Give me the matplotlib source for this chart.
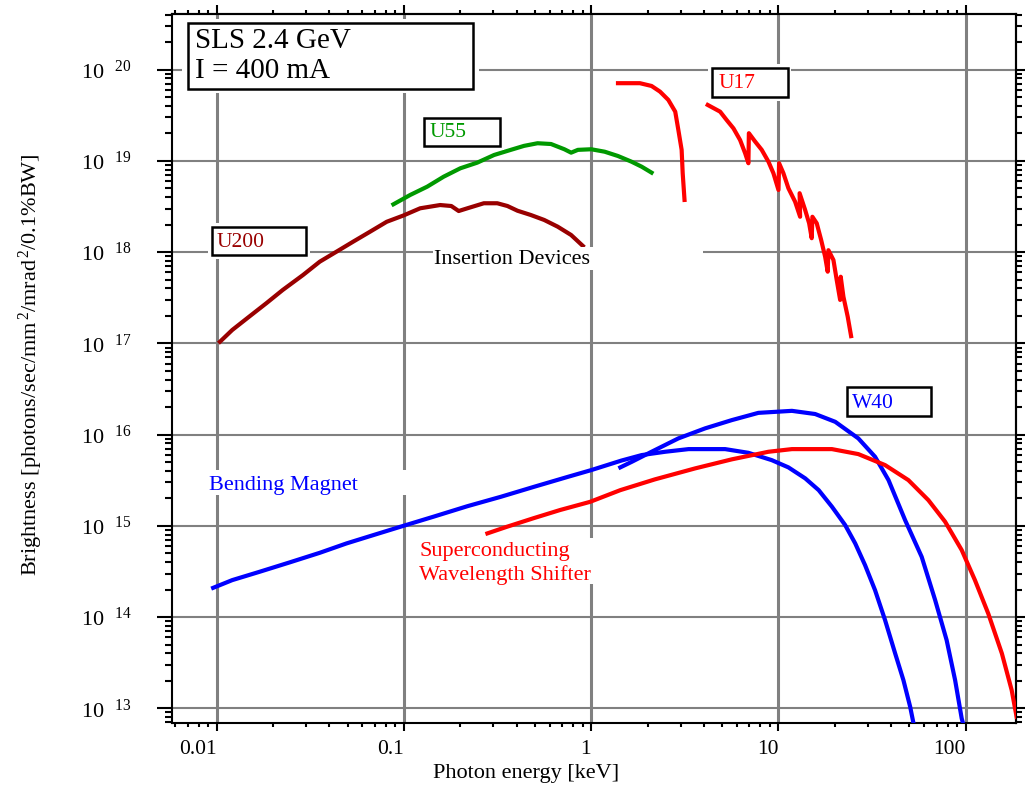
import numpy as np
import matplotlib.pyplot as plt
from matplotlib.patches import Rectangle
from matplotlib.ticker import LogLocator, NullFormatter

plt.rcParams['font.family'] = 'serif'
plt.rcParams['font.serif'] = ['Liberation Serif', 'DejaVu Serif']
plt.rcParams['mathtext.fontset'] = 'custom'
plt.rcParams['mathtext.rm'] = 'Liberation Serif'
plt.rcParams['mathtext.it'] = 'Liberation Serif:italic'
plt.rcParams['mathtext.bf'] = 'Liberation Serif:bold'

# photon energy [keV] and brightness for each source
u200_e = [0.0104, 0.0121, 0.0149, 0.0184, 0.0225, 0.0289, 0.0355, 0.0436, 0.0535, 0.0658,
          0.0809, 0.0994, 0.122, 0.156, 0.179, 0.196, 0.218, 0.267, 0.315, 0.357,
          0.404, 0.476, 0.561, 0.662, 0.781, 0.902]
u200_b = [1.04e17, 1.40e17, 1.96e17, 2.75e17, 3.84e17, 5.61e17, 7.85e17, 1.01e18, 1.30e18, 1.67e18,
          2.15e18, 2.52e18, 3.02e18, 3.28e18, 3.20e18, 2.82e18, 3.02e18, 3.43e18, 3.43e18, 3.20e18,
          2.84e18, 2.55e18, 2.25e18, 1.90e18, 1.54e18, 1.17e18]

u55_e = [0.0878, 0.108, 0.133, 0.163, 0.200, 0.246, 0.303, 0.372, 0.438, 0.517,
         0.610, 0.719, 0.781, 0.849, 1.00, 1.18, 1.39, 1.64, 1.86, 2.10]
u55_b = [3.34e18, 4.23e18, 5.21e18, 6.71e18, 8.29e18, 9.55e18, 1.16e19, 1.32e19, 1.46e19, 1.56e19,
         1.53e19, 1.34e19, 1.23e19, 1.32e19, 1.34e19, 1.26e19, 1.13e19, 9.80e18, 8.63e18, 7.43e18]

u17a_e = [1.39, 1.82, 2.10, 2.33, 2.58, 2.81, 2.92, 3.04, 3.08, 3.15]
u17a_b = [7.10e19, 7.10e19, 6.62e19, 5.74e19, 4.66e19, 3.46e19, 2.18e19, 1.32e19, 7.31e18, 3.73e18]

u17b_e = [4.19, 4.88, 5.29, 5.75, 6.24, 6.64, 6.91, 6.95, 7.50, 8.14,
          8.84, 9.40, 10.0, 10.08, 10.63, 11.30, 12.27, 13.05, 12.97, 13.88,
          14.58, 15.05, 15.18, 16.01, 16.90, 17.75, 18.32, 18.48, 19.66, 20.47,
          21.35, 21.50, 22.23, 23.43, 24.43]
u17b_b = [4.10e19, 3.46e19, 2.80e19, 2.27e19, 1.69e19, 1.21e19, 9.42e18, 2.01e19, 1.63e19, 1.32e19,
          9.80e18, 7.31e18, 4.80e18, 9.42e18, 7.31e18, 5.01e18, 3.57e18, 2.44e18, 4.42e18, 2.90e18,
          2.07e18, 1.42e18, 2.44e18, 2.07e18, 1.36e18, 8.91e17, 6.10e17, 1.05e18, 8.19e17, 4.94e17,
          2.99e17, 5.37e17, 3.24e17, 1.96e17, 1.20e17]

bm_e = [0.00957, 0.0121, 0.0169, 0.0245, 0.0355, 0.0493, 0.0686, 0.0994, 0.144, 0.218,
        0.329, 0.496, 0.750, 1.0, 1.45, 1.86, 2.48, 3.31, 5.19, 6.91,
        9.20, 11.3, 13.9, 16.4, 19.3, 22.7, 25.7, 29.0, 32.8, 37.1,
        42.0, 46.5, 50.5, 52.6]
bm_b = [2.09e14, 2.54e14, 3.13e14, 3.97e14, 5.06e14, 6.41e14, 7.91e14, 1.0e15, 1.26e15, 1.64e15,
        2.08e15, 2.68e15, 3.44e15, 4.08e15, 5.19e15, 5.96e15, 6.48e15, 6.93e15, 6.93e15, 6.31e15,
        5.25e15, 4.37e15, 3.31e15, 2.46e15, 1.62e15, 1.02e15, 6.41e14, 3.71e14, 1.97e14, 9.25e13,
        3.99e13, 2.03e13, 1.04e13, 6.87e12]

w40_e = [1.43, 1.65, 2.10, 2.92, 4.06, 5.63, 7.81, 11.8, 15.7, 20.1,
         26.7, 32.8, 38.7, 47.5, 58.2, 68.7, 79.1, 87.8, 95.2, 98.4]
w40_b = [4.37e15, 5.04e15, 6.48e15, 9.08e15, 1.17e16, 1.44e16, 1.73e16, 1.82e16, 1.68e16, 1.38e16,
         9.08e15, 5.71e15, 3.17e15, 1.15e15, 4.57e14, 1.53e14, 5.58e13, 2.03e13, 7.73e12, 6.05e12]

sws_e = [0.279, 0.354, 0.491, 0.682, 0.985, 1.43, 2.19, 3.59, 5.63, 8.84,
         11.8, 19.3, 26.7, 37.1, 49.4, 63.2, 77.6, 95.2, 112, 132,
         156, 176, 187]
sws_b = [8.26e14, 9.75e14, 1.21e15, 1.49e15, 1.83e15, 2.46e15, 3.23e15, 4.26e15, 5.35e15, 6.48e15,
         6.93e15, 6.93e15, 6.11e15, 4.63e15, 3.17e15, 1.91e15, 1.11e15, 5.42e14, 2.54e14, 1.09e14,
         3.99e13, 1.58e13, 8.05e12]

x_ticks = [0.01, 0.1, 1, 10, 100]
x_tick_labels = ['0.01', '0.1', '1', '10', '100']
y_exponents = list(range(13, 21))

fig = plt.figure(figsize=(10.29, 7.91), dpi=100)
ax = fig.add_axes([0.16715, 0.08597, 0.82022, 0.89633])
ax.set_xscale('log')
ax.set_yscale('log')
ax.set_xlim(0.00577, 185.6)
ax.set_ylim(6.9e12, 4.07e20)

lw = 3
ax.plot(u200_e, u200_b, color='#990000', lw=lw, zorder=3)
ax.plot(u55_e, u55_b, color='#009900', lw=lw, zorder=3)
ax.plot(u17a_e, u17a_b, color='#ff0000', lw=lw, zorder=3)
ax.plot(u17b_e, u17b_b, color='#ff0000', lw=lw, zorder=3)
ax.plot(bm_e, bm_b, color='#0000ff', lw=lw, zorder=3)
ax.plot(w40_e, w40_b, color='#0000ff', lw=lw, zorder=3)
ax.plot(sws_e, sws_b, color='#ff0000', lw=lw, zorder=3)

# grid
ax.set_axisbelow(True)
ax.xaxis.grid(True, which='major', color='#808080', lw=2.2)
ax.yaxis.grid(True, which='major', color='#808080', lw=1.5)

# ticks
ax.set_xticks(x_ticks)
ax.set_xticklabels(x_tick_labels, ha='right', fontsize=15.5)
ax.xaxis.set_minor_locator(LogLocator(base=10, subs=np.arange(2, 10), numticks=100))
ax.xaxis.set_minor_formatter(NullFormatter())
ax.set_yticks([10.0 ** k for k in y_exponents])
ax.set_yticklabels([r'10$^{\quad %d}$' % k for k in y_exponents], fontsize=16)
ax.yaxis.set_minor_locator(LogLocator(base=10, subs=np.arange(2, 10), numticks=100))
ax.yaxis.set_minor_formatter(NullFormatter())
ax.tick_params(axis='x', which='major', direction='out', length=5.8, width=1.5, pad=6.5)
ax.tick_params(axis='x', which='minor', direction='out', length=3, width=1.5)
ax.tick_params(axis='y', which='major', direction='out', length=10.8, width=1.5, pad=18)
ax.tick_params(axis='y', which='minor', direction='out', length=5, width=1.5)
for sp in ax.spines.values():
    sp.set_linewidth(1.5)

top = ax.secondary_xaxis('top')
top.xaxis.set_major_locator(LogLocator(base=10, numticks=100))
top.xaxis.set_minor_locator(LogLocator(base=10, subs=np.arange(2, 10), numticks=100))
top.xaxis.set_major_formatter(NullFormatter())
top.xaxis.set_minor_formatter(NullFormatter())
top.tick_params(which='major', direction='out', length=6.5, width=1.5)
top.tick_params(which='minor', direction='out', length=3, width=1.5)

right = ax.secondary_yaxis('right')
right.yaxis.set_major_locator(LogLocator(base=10, numticks=100))
right.yaxis.set_minor_locator(LogLocator(base=10, subs=np.arange(2, 10), numticks=100))
right.yaxis.set_major_formatter(NullFormatter())
right.yaxis.set_minor_formatter(NullFormatter())
right.tick_params(which='major', direction='out', length=6.5, width=1.5)
right.tick_params(which='minor', direction='out', length=4.5, width=1.5)
for sec in (top, right):
    for sp in sec.spines.values():
        sp.set_linewidth(1.5)

ax.set_xlabel('Photon energy [keV]', fontsize=16)
ax.xaxis.set_label_coords(0.4194, -0.058)
ax.set_ylabel(r'Brightness [photons/sec/mm$^{\,2}$/mrad$^{\,2}$/0.1%BW]', fontsize=16)
ax.yaxis.set_label_coords(-0.1505, 0.505)


def white(x0, y0, x1, y1):
    ax.add_patch(Rectangle((x0, y0), x1 - x0, y1 - y0, transform=ax.transAxes,
                           facecolor='white', edgecolor='none', zorder=4))


def framed(x0, y0, x1, y1, pad_x=0.0047, pad_y=0.0056):
    white(x0 - pad_x, y0 - pad_y, x1 + pad_x, y1 + pad_y)
    ax.add_patch(Rectangle((x0, y0), x1 - x0, y1 - y0, transform=ax.transAxes,
                           facecolor='white', edgecolor='black', lw=1.8, zorder=5))


def label(x, y, s, color, size=15.5):
    ax.text(x, y, s, transform=ax.transAxes, color=color, fontsize=size,
            ha='left', va='baseline', zorder=6)


# title box
framed(0.0193, 0.8942, 0.3563, 0.9869, pad_x=0.0075, pad_y=0.0057)
label(0.0273, 0.9516, 'SLS 2.4 GeV', 'black', size=21)
label(0.0273, 0.9093, 'I = 400 mA', 'black', size=21)

# device boxes
framed(0.2989, 0.8138, 0.3886, 0.8537)
label(0.3057, 0.8261, 'U55', '#009900')
framed(0.0470, 0.6601, 0.1588, 0.7000)
label(0.0530, 0.6709, 'U200', '#990000')
framed(0.6395, 0.8834, 0.7293, 0.9243)
label(0.6474, 0.8952, 'U17', '#ff0000')
framed(0.7995, 0.4330, 0.8991, 0.4735)
label(0.8054, 0.4439, 'W40', '#0000ff')

# free labels
white(0.3092, 0.6389, 0.6292, 0.6714)
label(0.3104, 0.6470, 'Insertion Devices', 'black', size=16)
white(0.0391, 0.3216, 0.2820, 0.3568)
label(0.0438, 0.3286, 'Bending Magnet', '#0000ff', size=16)
white(0.2879, 0.1961, 0.5047, 0.2609)
label(0.2927, 0.2355, 'Superconducting', '#ff0000', size=16)
label(0.2927, 0.2017, 'Wavelength Shifter', '#ff0000', size=16)

fig.savefig('out.png', dpi=100)
